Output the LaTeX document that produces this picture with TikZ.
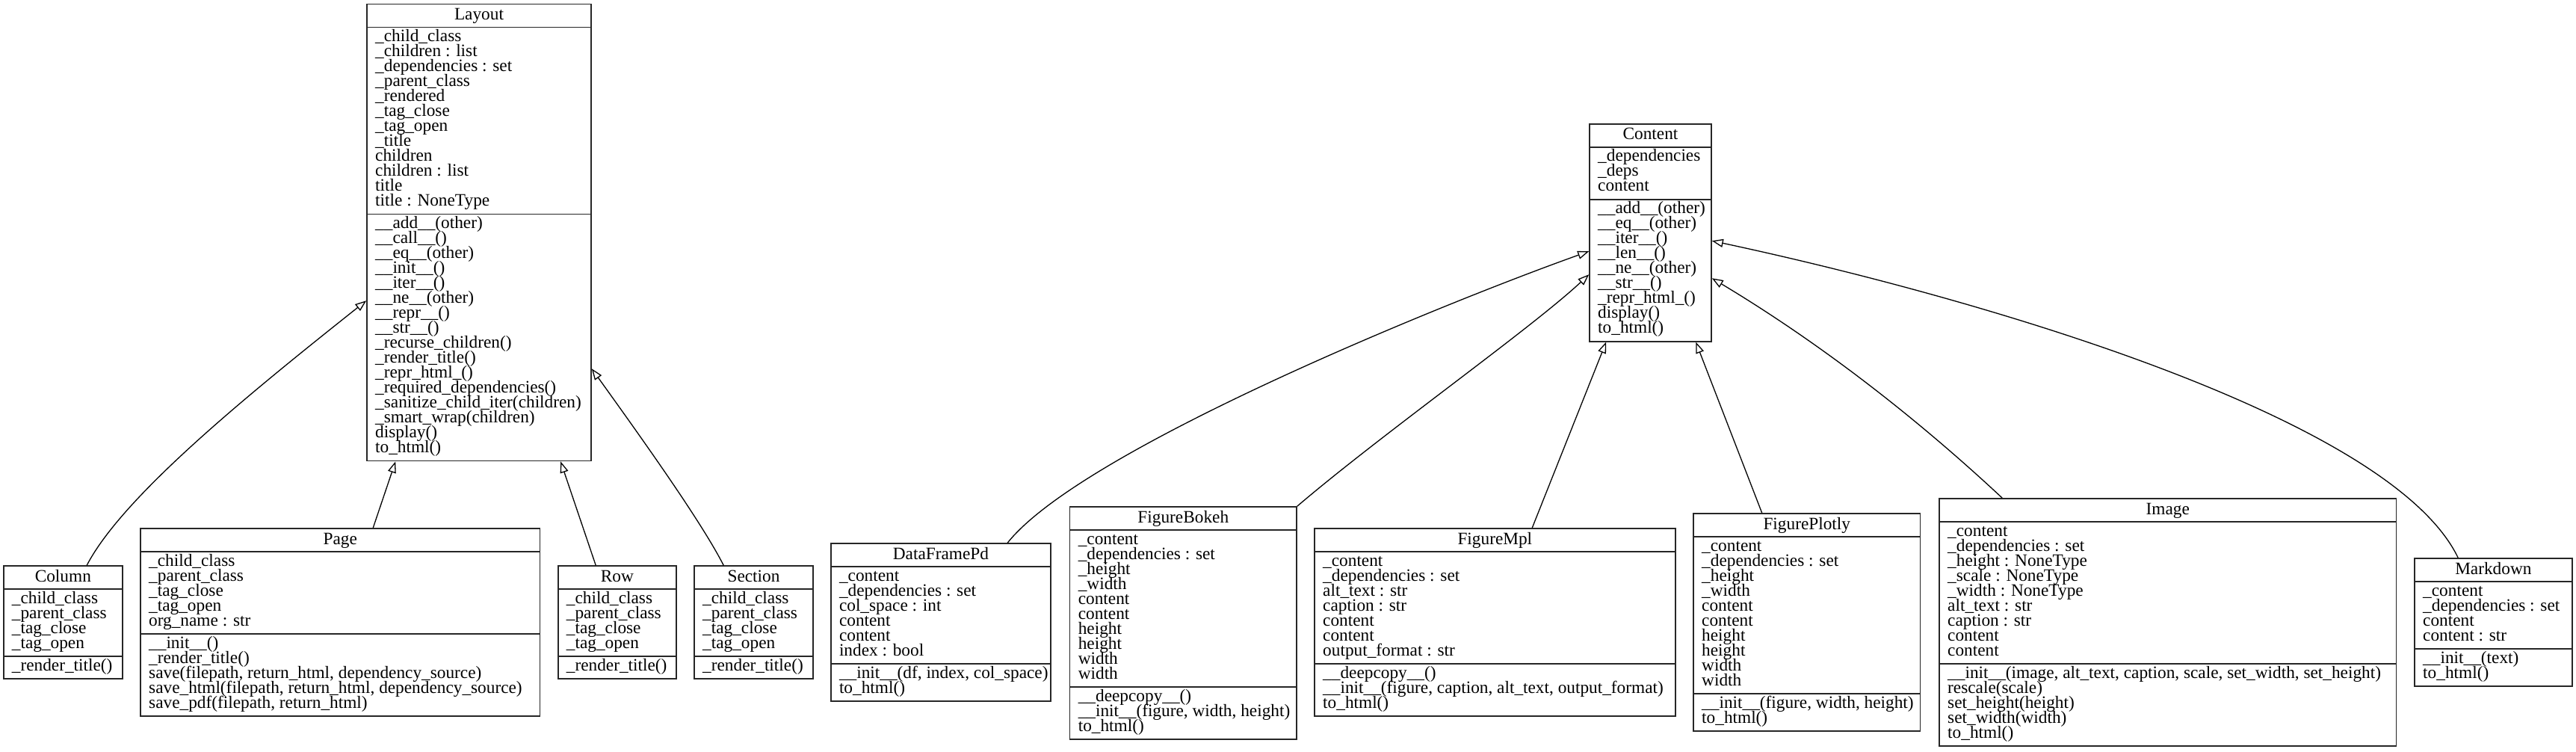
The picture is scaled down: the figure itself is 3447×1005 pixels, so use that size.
\documentclass[tikz,border=0pt]{standalone}
\usepackage{fontspec}
\setmainfont{Liberation Serif}
\usetikzlibrary{arrows.meta,fit}
\tikzset{
  classbox/.style={draw=black!85, line width=1.6pt, inner sep=0pt, fill=none},
  divider/.style={draw=black!85, line width=1.6pt},
  txt/.style={anchor=base west, inner sep=0pt, font=\fontsize{23.3}{20}\selectfont},
  titletext/.style={anchor=base, inner sep=0pt, font=\fontsize{23.3}{20}\selectfont},
  inh/.style={line width=1.3pt, -{Triangle[open, length=15pt, width=11pt, line width=1.3pt]}},
}
% #1 name, #2 x1, #3 x2, #4 top, #5 title, #6 attrs, #7 nattr, #8 methods, #9 nmeth
\newcommand\umlclass[9]{%
  \pgfmathsetmacro\umlDa{#4+31}%
  \pgfmathsetmacro\umlDb{\umlDa+10+20*#7}%
  \pgfmathsetmacro\umlBt{\umlDb+10+20*#9}%
  \node[classbox, fit={(#2,#4) (#3,\umlBt)}] (#1) {};
  \draw[divider] (#2,\umlDa) -- (#3,\umlDa) (#2,\umlDb) -- (#3,\umlDb);
  \node[titletext] (#1-title) at ({(#2+#3)/2}, #4+21) {#5};
  \foreach \itm [count=\k] in {#6} \node[txt] (#1-a\k) at (#2+11, {\umlDa+19+(\k-1)*20}) {\itm};
  \foreach \itm [count=\k] in {#8} \node[txt] (#1-m\k) at (#2+11, {\umlDb+19+(\k-1)*20}) {\itm};
}
\begin{document}
\begin{tikzpicture}[x=1pt, y=-1pt]
\fill[white] (0,0) rectangle (3447,1005);
\useasboundingbox (0,0) rectangle (3447,1005);

\umlclass{Layout}{491}{791}{5.6}{Layout}
 {\_child\_class, \_children : list, \_dependencies : set, \_parent\_class, \_rendered, \_tag\_close, \_tag\_open, \_title, children, children : list, title, title : NoneType}{12}
 {\_\_add\_\_(other), \_\_call\_\_(), \_\_eq\_\_(other), \_\_init\_\_(), \_\_iter\_\_(), \_\_ne\_\_(other), \_\_repr\_\_(), \_\_str\_\_(), \_recurse\_children(), \_render\_title(), \_repr\_html\_(), \_required\_dependencies(), \_sanitize\_child\_iter(children), \_smart\_wrap(children), display(), to\_html()}{16}

\umlclass{Column}{4.7}{164}{757}{Column}
 {\_child\_class, \_parent\_class, \_tag\_close, \_tag\_open}{4}
 {\_render\_title()}{1}

\umlclass{Page}{188}{722.5}{707}{Page}
 {\_child\_class, \_parent\_class, \_tag\_close, \_tag\_open, org\_name : str}{5}
 {\_\_init\_\_(), \_render\_title(), {save(filepath, return\_html, dependency\_source)}, {save\_html(filepath, return\_html, dependency\_source)}, {save\_pdf(filepath, return\_html)}}{5}

\umlclass{Row}{746.7}{905}{757}{Row}
 {\_child\_class, \_parent\_class, \_tag\_close, \_tag\_open}{4}
 {\_render\_title()}{1}

\umlclass{Section}{929}{1088}{757}{Section}
 {\_child\_class, \_parent\_class, \_tag\_close, \_tag\_open}{4}
 {\_render\_title()}{1}

\umlclass{DataFramePd}{1111.8}{1406}{727}{DataFramePd}
 {\_content, \_dependencies : set, col\_space : int, content, content, index : bool}{6}
 {{\_\_init\_\_(df, index, col\_space)}, to\_html()}{2}

\umlclass{FigureBokeh}{1431.6}{1735}{678}{FigureBokeh}
 {\_content, \_dependencies : set, \_height, \_width, content, content, height, height, width, width}{10}
 {\_\_deepcopy\_\_(), {\_\_init\_\_(figure, width, height)}, to\_html()}{3}

\umlclass{FigureMpl}{1759}{2241.7}{707}{FigureMpl}
 {\_content, \_dependencies : set, alt\_text : str, caption : str, content, content, output\_format : str}{7}
 {\_\_deepcopy\_\_(), {\_\_init\_\_(figure, caption, alt\_text, output\_format)}, to\_html()}{3}

\umlclass{FigurePlotly}{2266}{2569.5}{687}{FigurePlotly}
 {\_content, \_dependencies : set, \_height, \_width, content, content, height, height, width, width}{10}
 {{\_\_init\_\_(figure, width, height)}, to\_html()}{2}

\umlclass{Image}{2595}{3206.5}{667}{Image}
 {\_content, \_dependencies : set, \_height : NoneType, \_scale : NoneType, \_width : NoneType, alt\_text : str, caption : str, content, content}{9}
 {{\_\_init\_\_(image, alt\_text, caption, scale, set\_width, set\_height)}, rescale(scale), set\_height(height), set\_width(width), to\_html()}{5}

\umlclass{Markdown}{3231}{3441.7}{747}{Markdown}
 {\_content, \_dependencies : set, content, content : str}{4}
 {\_\_init\_\_(text), to\_html()}{2}

\umlclass{Content}{2127}{2290}{165.7}{Content}
 {\_dependencies, \_deps, content}{3}
 {\_\_add\_\_(other), \_\_eq\_\_(other), \_\_iter\_\_(), \_\_len\_\_(), \_\_ne\_\_(other), \_\_str\_\_(), \_repr\_html\_(), display(), to\_html()}{9}

% inheritance connectors
\draw[inh] ([xshift=112.3]Column.north west) .. controls +(48,-92) and +(-160,127) .. ([yshift=-397.4]Layout.north west);
\draw[inh] ([xshift=312]Page.north west) -- ([xshift=39]Layout.south west);
\draw[inh] ([xshift=51.3]Row.north west) -- ([xshift=260]Layout.south west);
\draw[inh] ([xshift=40]Section.north west) .. controls +(-29,-57) and +(69,96) .. ([yshift=-488.4]Layout.north east);

\draw[inh] ([xshift=237.2]DataFramePd.north west) .. controls +(101,-127) and +(-177,63) .. ([yshift=-171.3]Content.north west);
\draw[inh] (FigureBokeh.north east) .. controls +(115,-98) and +(-77,72) .. ([yshift=-202.3]Content.north west);
\draw[inh] ([xshift=292]FigureMpl.north west) -- ([xshift=23]Content.south west);
\draw[inh] ([xshift=92.5]FigurePlotly.north west) -- ([xshift=143]Content.south west);
\draw[inh] ([xshift=85]Image.north west) .. controls +(-120,-112) and +(140,84) .. ([yshift=-207.3]Content.north east);
\draw[inh] ([xshift=59]Markdown.north west) .. controls +(-90,-187) and +(360,77) .. ([yshift=-157.3]Content.north east);
\end{tikzpicture}
\end{document}
